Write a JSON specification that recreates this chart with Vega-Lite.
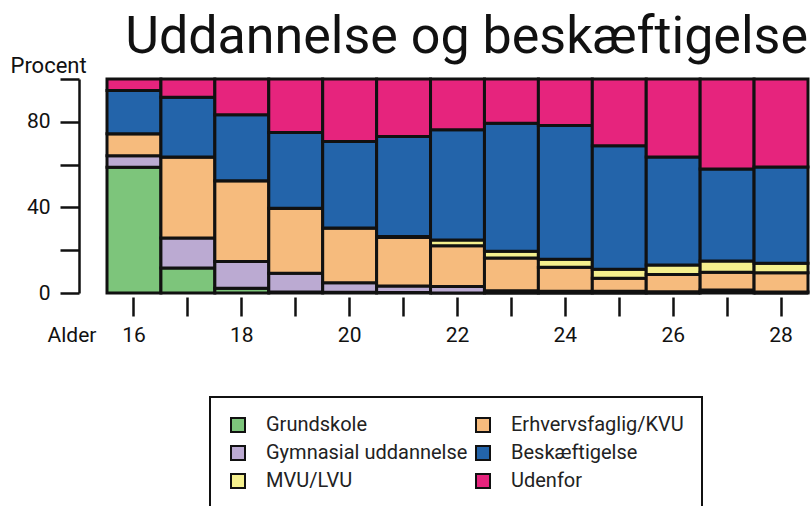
{
  "$schema": "https://vega.github.io/schema/vega-lite/v6.json",
  "width": 701,
  "height": 214,
  "autosize": {"type": "none"},
  "padding": {"left": 107, "top": 79, "right": 3, "bottom": 213},
  "background": "white",
  "config": {
    "font": "Roboto",
    "view": {"stroke": null}
  },
  "title": {
    "text": "Uddannelse og beskæftigelse",
    "font": "Roboto",
    "fontSize": 52,
    "fontWeight": "normal",
    "color": "#111111",
    "anchor": "end",
    "frame": "group",
    "orient": "top",
    "offset": -10
  },
  "datasets": {
    "rows": [
      {"alder": 16, "kategori": "Grundskole", "k": 1, "pct": 58.8},
      {"alder": 16, "kategori": "Gymnasial uddannelse", "k": 2, "pct": 5.3},
      {"alder": 16, "kategori": "Erhvervsfaglig/KVU", "k": 3, "pct": 10.3},
      {"alder": 16, "kategori": "MVU/LVU", "k": 4, "pct": 0},
      {"alder": 16, "kategori": "Beskæftigelse", "k": 5, "pct": 20.2},
      {"alder": 16, "kategori": "Udenfor", "k": 6, "pct": 5.4},
      {"alder": 17, "kategori": "Grundskole", "k": 1, "pct": 11.7},
      {"alder": 17, "kategori": "Gymnasial uddannelse", "k": 2, "pct": 14.0},
      {"alder": 17, "kategori": "Erhvervsfaglig/KVU", "k": 3, "pct": 37.8},
      {"alder": 17, "kategori": "MVU/LVU", "k": 4, "pct": 0},
      {"alder": 17, "kategori": "Beskæftigelse", "k": 5, "pct": 28.0},
      {"alder": 17, "kategori": "Udenfor", "k": 6, "pct": 8.5},
      {"alder": 18, "kategori": "Grundskole", "k": 1, "pct": 2.2},
      {"alder": 18, "kategori": "Gymnasial uddannelse", "k": 2, "pct": 12.5},
      {"alder": 18, "kategori": "Erhvervsfaglig/KVU", "k": 3, "pct": 37.7},
      {"alder": 18, "kategori": "MVU/LVU", "k": 4, "pct": 0},
      {"alder": 18, "kategori": "Beskæftigelse", "k": 5, "pct": 30.9},
      {"alder": 18, "kategori": "Udenfor", "k": 6, "pct": 16.7},
      {"alder": 19, "kategori": "Grundskole", "k": 1, "pct": 0.5},
      {"alder": 19, "kategori": "Gymnasial uddannelse", "k": 2, "pct": 8.7},
      {"alder": 19, "kategori": "Erhvervsfaglig/KVU", "k": 3, "pct": 30.4},
      {"alder": 19, "kategori": "MVU/LVU", "k": 4, "pct": 0},
      {"alder": 19, "kategori": "Beskæftigelse", "k": 5, "pct": 35.4},
      {"alder": 19, "kategori": "Udenfor", "k": 6, "pct": 25.0},
      {"alder": 20, "kategori": "Grundskole", "k": 1, "pct": 0.3},
      {"alder": 20, "kategori": "Gymnasial uddannelse", "k": 2, "pct": 4.5},
      {"alder": 20, "kategori": "Erhvervsfaglig/KVU", "k": 3, "pct": 25.6},
      {"alder": 20, "kategori": "MVU/LVU", "k": 4, "pct": 0},
      {"alder": 20, "kategori": "Beskæftigelse", "k": 5, "pct": 40.4},
      {"alder": 20, "kategori": "Udenfor", "k": 6, "pct": 29.2},
      {"alder": 21, "kategori": "Grundskole", "k": 1, "pct": 0.2},
      {"alder": 21, "kategori": "Gymnasial uddannelse", "k": 2, "pct": 3.1},
      {"alder": 21, "kategori": "Erhvervsfaglig/KVU", "k": 3, "pct": 22.6},
      {"alder": 21, "kategori": "MVU/LVU", "k": 4, "pct": 0.5},
      {"alder": 21, "kategori": "Beskæftigelse", "k": 5, "pct": 46.7},
      {"alder": 21, "kategori": "Udenfor", "k": 6, "pct": 26.9},
      {"alder": 22, "kategori": "Grundskole", "k": 1, "pct": 0},
      {"alder": 22, "kategori": "Gymnasial uddannelse", "k": 2, "pct": 3.0},
      {"alder": 22, "kategori": "Erhvervsfaglig/KVU", "k": 3, "pct": 19.1},
      {"alder": 22, "kategori": "MVU/LVU", "k": 4, "pct": 2.7},
      {"alder": 22, "kategori": "Beskæftigelse", "k": 5, "pct": 51.5},
      {"alder": 22, "kategori": "Udenfor", "k": 6, "pct": 23.7},
      {"alder": 23, "kategori": "Grundskole", "k": 1, "pct": 0},
      {"alder": 23, "kategori": "Gymnasial uddannelse", "k": 2, "pct": 1.0},
      {"alder": 23, "kategori": "Erhvervsfaglig/KVU", "k": 3, "pct": 15.4},
      {"alder": 23, "kategori": "MVU/LVU", "k": 4, "pct": 3.1},
      {"alder": 23, "kategori": "Beskæftigelse", "k": 5, "pct": 59.8},
      {"alder": 23, "kategori": "Udenfor", "k": 6, "pct": 20.7},
      {"alder": 24, "kategori": "Grundskole", "k": 1, "pct": 0},
      {"alder": 24, "kategori": "Gymnasial uddannelse", "k": 2, "pct": 0.8},
      {"alder": 24, "kategori": "Erhvervsfaglig/KVU", "k": 3, "pct": 11.2},
      {"alder": 24, "kategori": "MVU/LVU", "k": 4, "pct": 3.8},
      {"alder": 24, "kategori": "Beskæftigelse", "k": 5, "pct": 62.5},
      {"alder": 24, "kategori": "Udenfor", "k": 6, "pct": 21.7},
      {"alder": 25, "kategori": "Grundskole", "k": 1, "pct": 0},
      {"alder": 25, "kategori": "Gymnasial uddannelse", "k": 2, "pct": 0.8},
      {"alder": 25, "kategori": "Erhvervsfaglig/KVU", "k": 3, "pct": 6.1},
      {"alder": 25, "kategori": "MVU/LVU", "k": 4, "pct": 4.2},
      {"alder": 25, "kategori": "Beskæftigelse", "k": 5, "pct": 57.7},
      {"alder": 25, "kategori": "Udenfor", "k": 6, "pct": 31.2},
      {"alder": 26, "kategori": "Grundskole", "k": 1, "pct": 0},
      {"alder": 26, "kategori": "Gymnasial uddannelse", "k": 2, "pct": 0.6},
      {"alder": 26, "kategori": "Erhvervsfaglig/KVU", "k": 3, "pct": 8.0},
      {"alder": 26, "kategori": "MVU/LVU", "k": 4, "pct": 4.5},
      {"alder": 26, "kategori": "Beskæftigelse", "k": 5, "pct": 50.4},
      {"alder": 26, "kategori": "Udenfor", "k": 6, "pct": 36.5},
      {"alder": 27, "kategori": "Grundskole", "k": 1, "pct": 0.5},
      {"alder": 27, "kategori": "Gymnasial uddannelse", "k": 2, "pct": 0.9},
      {"alder": 27, "kategori": "Erhvervsfaglig/KVU", "k": 3, "pct": 8.3},
      {"alder": 27, "kategori": "MVU/LVU", "k": 4, "pct": 5.3},
      {"alder": 27, "kategori": "Beskæftigelse", "k": 5, "pct": 43.0},
      {"alder": 27, "kategori": "Udenfor", "k": 6, "pct": 42.0},
      {"alder": 28, "kategori": "Grundskole", "k": 1, "pct": 0},
      {"alder": 28, "kategori": "Gymnasial uddannelse", "k": 2, "pct": 0.5},
      {"alder": 28, "kategori": "Erhvervsfaglig/KVU", "k": 3, "pct": 9.0},
      {"alder": 28, "kategori": "MVU/LVU", "k": 4, "pct": 4.4},
      {"alder": 28, "kategori": "Beskæftigelse", "k": 5, "pct": 45.0},
      {"alder": 28, "kategori": "Udenfor", "k": 6, "pct": 41.1}
    ]
  },
  "data": {"name": "rows"},
  "mark": {"type": "bar", "stroke": "#111111", "strokeWidth": 3, "strokeJoin": "miter"},
  "encoding": {
    "x": {
      "field": "alder",
      "type": "ordinal",
      "scale": {"paddingInner": 0, "paddingOuter": 0},
      "axis": {
        "title": "Alder",
        "titleFont": "Roboto",
        "titleFontSize": 21,
        "titleFontWeight": "normal",
        "titleColor": "#111111",
        "titleAngle": 0,
        "titleAlign": "left",
        "titleBaseline": "alphabetic",
        "titleX": -60,
        "titleY": 44,
        "labelAngle": 0,
        "labelFont": "Roboto",
        "labelFontSize": 21,
        "labelColor": "#111111",
        "labelPadding": 8,
        "labelExpr": "datum.value % 2 == 0 ? datum.label : ''",
        "domain": false,
        "ticks": true,
        "tickSize": 19,
        "tickWidth": 2.5,
        "tickColor": "#111111",
        "offset": 4,
        "grid": false
      }
    },
    "y": {
      "field": "pct",
      "type": "quantitative",
      "stack": "zero",
      "scale": {"domain": [0, 100], "nice": false},
      "axis": {
        "title": "Procent",
        "titleFont": "Roboto",
        "titleFontSize": 22,
        "titleFontWeight": "normal",
        "titleColor": "#111111",
        "titleAngle": 0,
        "titleAlign": "left",
        "titleBaseline": "alphabetic",
        "titleX": -69,
        "titleY": -7,
        "values": [0, 20, 40, 60, 80, 100],
        "labelExpr": "datum.value % 40 == 0 && datum.value < 100 ? datum.label : ''",
        "labelFont": "Roboto",
        "labelFontSize": 21,
        "labelColor": "#111111",
        "labelPadding": 10,
        "domain": true,
        "domainColor": "#111111",
        "domainWidth": 2.5,
        "tickSize": 19,
        "tickWidth": 2.5,
        "tickColor": "#111111",
        "offset": 28,
        "grid": false
      }
    },
    "color": {
      "field": "kategori",
      "type": "nominal",
      "scale": {
        "domain": ["Grundskole", "Erhvervsfaglig/KVU", "Gymnasial uddannelse", "Beskæftigelse", "MVU/LVU", "Udenfor"],
        "range": ["#7DC57B", "#F6BB7D", "#BBAAD2", "#2364AA", "#F5F08E", "#E6247D"]
      },
      "legend": {
        "title": null,
        "orient": "none",
        "legendX": 103,
        "legendY": 318,
        "columns": 2,
        "direction": "horizontal",
        "strokeColor": "#111111",
        "padding": 18,
        "symbolType": "square",
        "symbolSize": 196,
        "symbolStrokeColor": "#111111",
        "symbolStrokeWidth": 2,
        "symbolOpacity": 1,
        "labelFont": "Roboto",
        "labelFontSize": 20,
        "labelColor": "#222222",
        "labelOffset": 18,
        "labelLimit": 400,
        "rowPadding": 6,
        "columnPadding": 4,
        "encode": {"legend": {"update": {"strokeWidth": {"value": 2}}}}
      }
    },
    "order": {"field": "k", "type": "quantitative", "sort": "ascending"}
  }
}
